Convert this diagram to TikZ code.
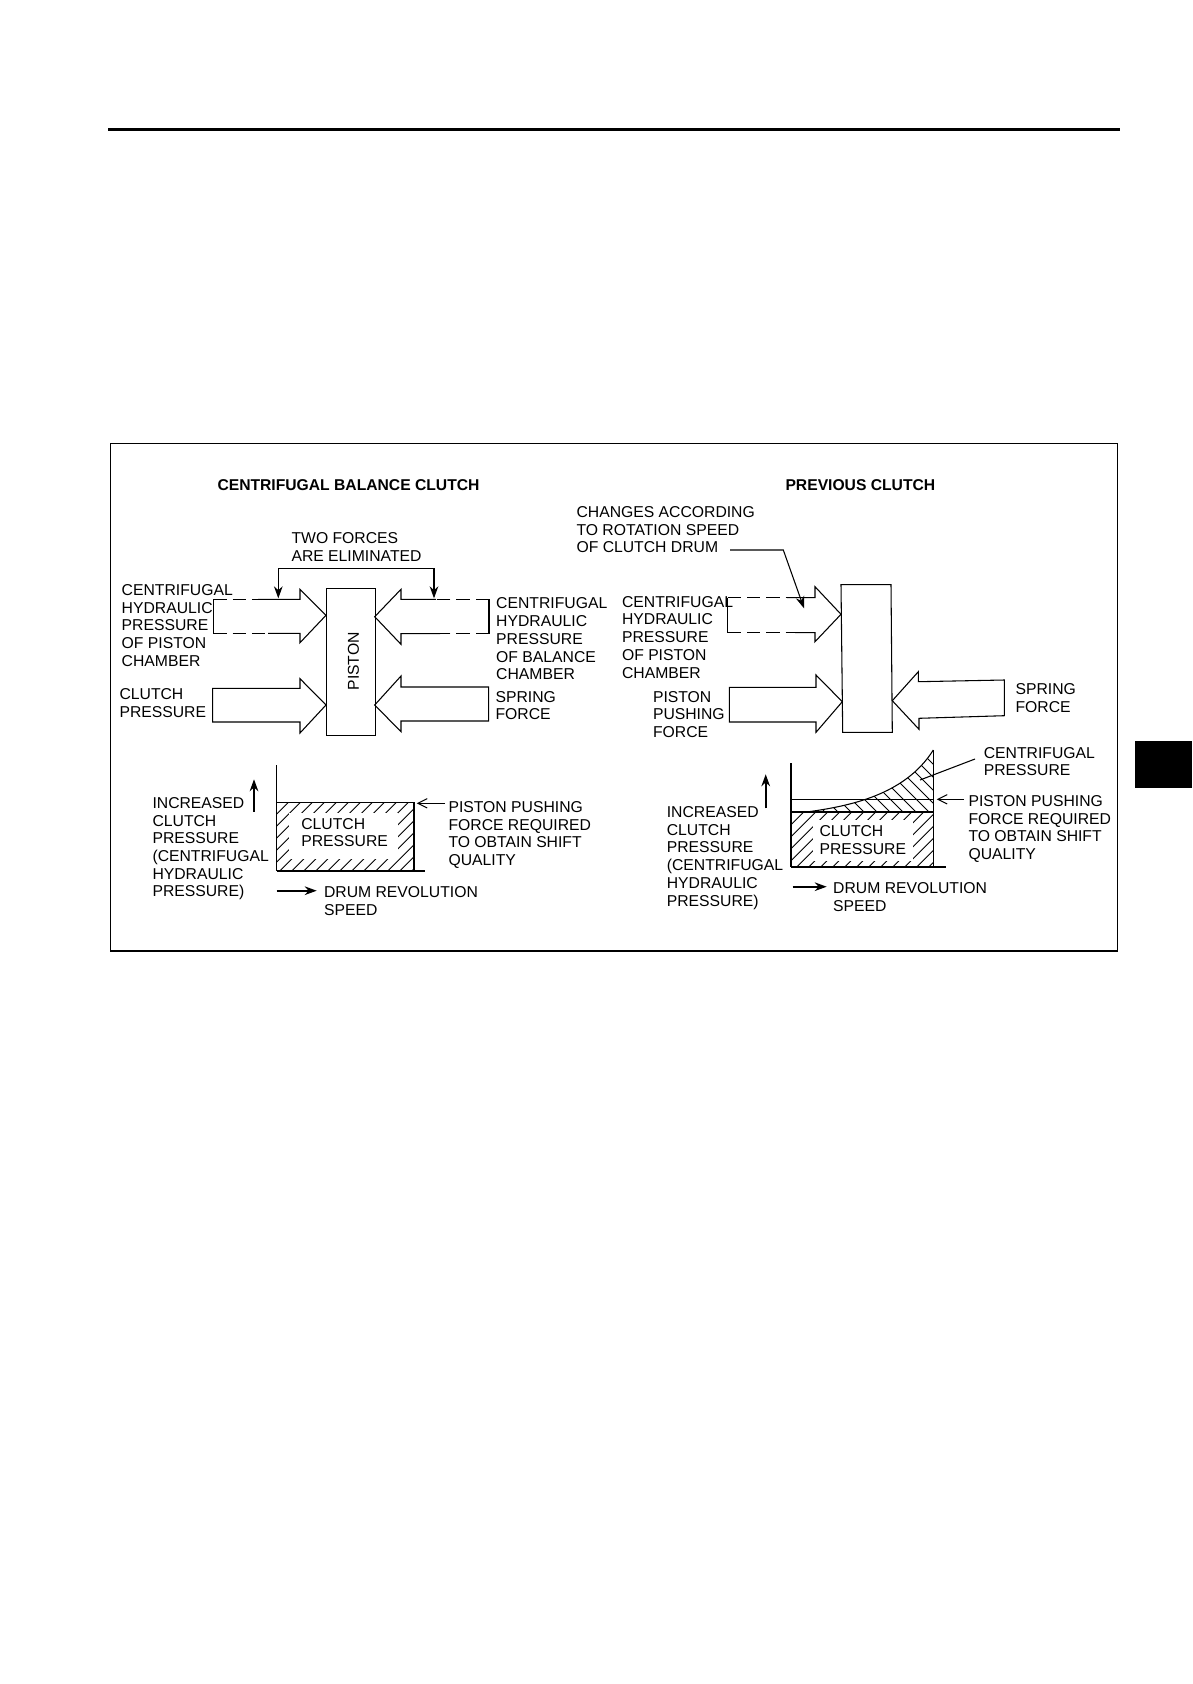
\documentclass[tikz,border=0pt]{standalone}
\usepackage{fontspec}
\setmainfont{Liberation Sans}
\usetikzlibrary{arrows.meta}
\tikzset{every picture/.style={line width=0.8pt},
  lbl/.style={anchor=north west,inner sep=0pt,align=left,font=\fontsize{11.8}{13.3}\selectfont},
  ttl/.style={anchor=north west,inner sep=0pt,font=\fontsize{11.75}{13.3}\selectfont\bfseries},
  dsh/.style={dash pattern=on 10pt off 4.5pt},
  tipfill/.style={-{Stealth[length=9pt,width=6.5pt]}},
  tipopen/.style={-{Straight Barb[length=7pt,width=7pt]}},
  hatch/.style={line width=0.7pt}}

\begin{document}
\begin{tikzpicture}[x=0.75pt,y=0.75pt,yscale=-1,xscale=1]
\useasboundingbox (0,0) rectangle (1192,1684);

%Straight Lines: page rule
\fill (108,128) rectangle (1120,131);
%Shape: Rectangle: side tab
\fill (1135,740.7) rectangle (1192,788);
%Shape: Rectangle: frame
\draw (110.7,443.5) rectangle (1117.5,951);

%Shape: Piston
\node (pistonL) [draw,anchor=north west,minimum width=36.5pt,minimum height=110.2pt,inner sep=0pt] at (326,588) {};
%Shape: Arrow, centrifugal left
\draw (258,599.3) -- (300,599.3) -- (300,589.3) -- (326,615.3) -- (300,642.7) -- (300,633.3) -- (268,633.3) ;
\draw [dsh] (213.3,599.3) -- (258,599.3) ;
\draw [dsh] (213.3,633.3) -- (268,633.3) ;
\draw (213.3,599.3) -- (213.3,633.3) ;
%Shape: Arrow, clutch
\draw (212.7,688.3) -- (300,688.3) -- (300,678.7) -- (326,705) -- (300,733) -- (300,722) -- (212.7,722) -- cycle ;
%Shape: Arrow, centrifugal right
\draw (436,599.3) -- (401,599.3) -- (401,589.3) -- (374.7,616.7) -- (401,644.3) -- (401,633.7) -- (440,633.7) ;
\draw [dsh] (489,599.3) -- (436,599.3) ;
\draw [dsh] (489,633.7) -- (440,633.7) ;
\draw (489,599.3) -- (489,633.7) ;
%Shape: Arrow, spring
\draw (488.7,687) -- (401,687) -- (401,676) -- (374.7,705) -- (401,731.7) -- (401,721) -- (488.7,721) -- cycle ;
%Straight Lines: bracket
\coordinate (brL) at (278.3,598.3);
\coordinate (brR) at (434,598.3);
\draw [tipfill] (278.3,568.3) -- (brL) ;
\draw [tipfill] (278.3,568.3) -- (434,568.3) -- (brR) ;

%Shape: Block
\draw (841,584.7) -- (891,584.7) -- (892.3,732.3) -- (842.7,732.3) -- cycle ;
\coordinate (lineP) at (730,550);
\coordinate (lineQ) at (804,608.3);
%Shape: Arrow, centrifugal
\draw (787,597.7) -- (815,597.7) -- (815,586.7) -- (841,614.3) -- (815,641.7) -- (815,632.7) -- (795,632.7) ;
\draw [dsh] (727.7,597.7) -- (787,597.7) ;
\draw [dsh] (727.7,632.7) -- (795,632.7) ;
\draw (727.7,597.7) -- (727.7,632.7) ;
%Shape: Arrow, pushing force
\draw (729.3,687.3) -- (816,687.3) -- (816,675) -- (842.3,701.7) -- (816,732.3) -- (816,722) -- (729.3,722) -- cycle ;
%Shape: Arrow, spring
\draw (1004.3,680) -- (918.3,681.7) -- (918.3,671.7) -- (892.3,700.7) -- (919,729.3) -- (919,718.3) -- (1004.3,715.7) -- cycle ;
%Straight Lines: leader
\draw [tipfill] (lineP) -- (783.3,550) -- (lineQ) ;

%Graph left: hatch
\begin{scope}
\clip (276.7,802.7) rectangle (414,870.7);
\foreach \i in {208,220,...,420} {\draw [hatch] (\i,870.7) -- (\i+68,802.7);}
\end{scope}
\fill [white] (289,813) rectangle (398,859);
\draw (276.7,765) -- (276.7,870.7) ;
\draw [line width=1.2pt] (276.7,870.7) -- (425,870.7) ;
\draw (276.7,802.7) -- (414,802.7) -- (414,870.7) ;
\coordinate (upA) at (254,811.7);
\coordinate (upB) at (254,779.3);
\draw [tipfill,line width=1.1pt] (upA) -- (upB) ;
\coordinate (drA) at (276.7,890.7);
\coordinate (drB) at (316.7,890.7);
\draw [tipfill,line width=1.2pt] (drA) -- (drB) ;
\coordinate (ppA) at (445,803.3);
\coordinate (ppB) at (416.7,803.3);
\draw [tipopen] (ppA) -- (ppB) ;

%Graph right: hatch
\begin{scope}
\clip (791,812) rectangle (933.3,866.7);
\foreach \i in {737,749,...,940} {\draw [hatch] (\i,866.7) -- (\i+55,811.7);}
\end{scope}
\fill [white] (813,820) rectangle (913,861);
\begin{scope}
\clip (806.7,812) .. controls (850,806) and (905,795) .. (933.3,750) -- (933.3,812) -- cycle;
\foreach \i in {740,753,...,935} {\draw [hatch] (\i,740) -- (\i+72,812);}
\end{scope}
\draw (806.7,812) .. controls (850,806) and (905,795) .. (933.3,750) ;
\draw (791,763.3) -- (791,866.7) ;
\draw (933.3,750) -- (933.3,866.7) ;
\draw [line width=1.2pt] (791,866.7) -- (946,866.7) ;
\draw (791,799.3) -- (933.3,799.3) ;
\draw [line width=1pt] (791,812) -- (933.3,812) ;
\coordinate (upC) at (765.7,808.3);
\coordinate (upD) at (765.7,774.3);
\draw [tipfill,line width=1.2pt] (upC) -- (upD) ;
\coordinate (drC) at (792.7,886.7);
\coordinate (drD) at (826.7,886.7);
\draw [tipfill,line width=1.2pt] (drC) -- (drD) ;
\coordinate (ppC) at (964,799.3);
\coordinate (ppD) at (936.7,799.3);
\draw [tipopen] (ppC) -- (ppD) ;
\coordinate (cpA) at (975,759);
\coordinate (cpB) at (920,780);
\draw (cpA) -- (cpB) ;

% Text Node
\draw (217,479.3) node (ttlL) [ttl] {CENTRIFUGAL BALANCE CLUTCH};
% Text Node
\draw (785,479.3) node (ttlR) [ttl] {PREVIOUS CLUTCH};
% Text Node
\draw (291,532) node (txtTwo) [lbl] {TWO FORCES\\ARE ELIMINATED};
% Text Node
\draw (121.2,584) node (txtCL) [lbl] {CENTRIFUGAL\\HYDRAULIC\\PRESSURE\\OF PISTON\\CHAMBER};
% Text Node
\draw (495.7,597.3) node (txtCR) [lbl] {CENTRIFUGAL\\HYDRAULIC\\PRESSURE\\OF BALANCE\\CHAMBER};
% Text Node
\draw (119,688) node (txtClutch) [lbl] {CLUTCH\\PRESSURE};
% Text Node
\draw (495,690.7) node (txtSpr) [lbl] {SPRING\\FORCE};
% Text Node
\draw (353.5,661.3) node (txtPiston) [inner sep=0pt,rotate=90,font=\fontsize{11.8}{13.3}\selectfont] {PISTON};
% Text Node
\draw (576,506) node (txtChg) [lbl] {CHANGES ACCORDING\\TO ROTATION SPEED\\OF CLUTCH DRUM};
% Text Node
\draw (621.5,595.7) node (txtCP) [lbl] {CENTRIFUGAL\\HYDRAULIC\\PRESSURE\\OF PISTON\\CHAMBER};
% Text Node
\draw (652.5,690.5) node (txtPush) [lbl] {PISTON\\PUSHING\\FORCE};
% Text Node
\draw (1015,682.8) node (txtSpr2) [lbl] {SPRING\\FORCE};
% Text Node
\draw (152,796.8) node (txtIncL) [lbl] {INCREASED\\CLUTCH\\PRESSURE\\(CENTRIFUGAL\\HYDRAULIC\\PRESSURE)};
% Text Node
\draw (300.8,817.5) node (txtGraphL) [lbl] {CLUTCH\\PRESSURE};
% Text Node
\draw (448,800.8) node (txtPPL) [lbl] {PISTON PUSHING\\FORCE REQUIRED\\TO OBTAIN SHIFT\\QUALITY};
% Text Node
\draw (323.5,886) node (txtDrL) [lbl] {DRUM REVOLUTION\\SPEED};
% Text Node
\draw (983.3,746.7) node (txtCent) [lbl] {CENTRIFUGAL\\PRESSURE};
% Text Node
\draw (968,795) node (txtPPR) [lbl] {PISTON PUSHING\\FORCE REQUIRED\\TO OBTAIN SHIFT\\QUALITY};
% Text Node
\draw (666.3,806) node (txtIncR) [lbl] {INCREASED\\CLUTCH\\PRESSURE\\(CENTRIFUGAL\\HYDRAULIC\\PRESSURE)};
% Text Node
\draw (819,825) node (txtGraphR) [lbl] {CLUTCH\\PRESSURE};
% Text Node
\draw (832.7,882.3) node (txtDrR) [lbl] {DRUM REVOLUTION\\SPEED};

\end{tikzpicture}
\end{document}
